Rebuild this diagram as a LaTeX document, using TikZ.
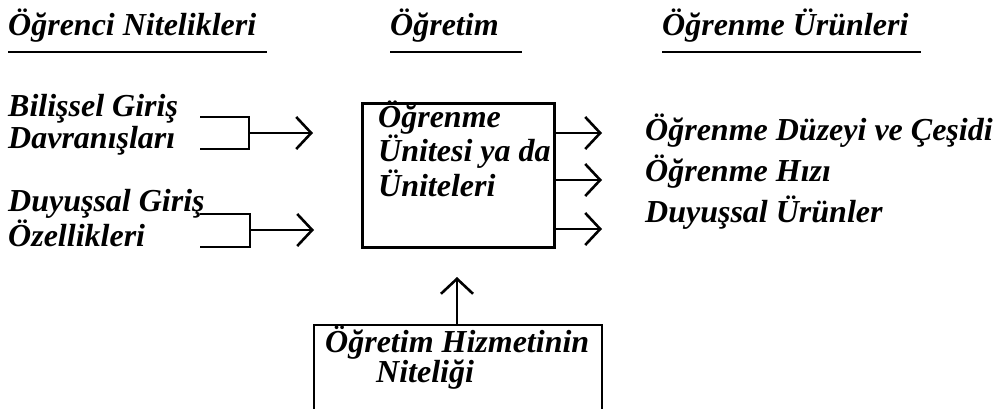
\documentclass[tikz,border=0pt]{standalone}
\usepackage{fontspec}
\setmainfont{Liberation Serif}
\usetikzlibrary{arrows.meta, positioning}

\tikzset{
  lbl/.style={font=\fontsize{32}{32}\selectfont\bfseries\itshape, inner sep=0pt, anchor=base west, align=left},
  thickline/.style={line width=2.6pt},
  flow/.style={line width=2.6pt, -{Straight Barb[length=15pt, width=32pt]}},
}

\begin{document}
\begin{tikzpicture}[x=1pt, y=-1pt]
  \useasboundingbox (0,0) rectangle (1002,408);
  \clip (0,0) rectangle (1002,408);

  % column headings with their underlines
  \node[lbl] (hNitelik) at (8,35) {Öğrenci Nitelikleri};
  \node[lbl] (hOgretim) at (390,35) {Öğretim};
  \node[lbl] (hUrun) at (662,35) {Öğrenme Ürünleri};
  \draw[thickline] (8,52) -- (267,52);
  \draw[thickline] (390,52) -- (522,52);
  \draw[thickline] (662,52) -- (921,52);

  % student characteristics (base = last line)
  \node[lbl] (bilissel) at (8,148) {Bilişsel Giriş\\Davranışları};
  \node[lbl] (duyussal) at (8,246) {Duyuşsal Giriş\\Özellikleri};

  % brackets and input arrows
  \coordinate (bilOut) at (249,133);
  \coordinate (bilEnd) at (313,133);
  \coordinate (duyOut) at (250,230);
  \coordinate (duyEnd) at (314,230);
  \draw[thickline] (200,117) -- (249,117) -- (249,149) -- (200,149);
  \draw[thickline] (200,214) -- (250,214) -- (250,247) -- (200,247);
  \draw[flow] (bilOut) -- (bilEnd);
  \draw[flow] (duyOut) -- (duyEnd);

  % learning unit
  \node[thickline, draw, anchor=north west, minimum width=192pt, minimum height=144pt] (unite) at (361,102) {};
  \node[lbl] (uniteText) at (378,196) {Öğrenme\\Ünitesi ya da\\Üniteleri};

  % outcomes
  \node[lbl] (duzey) at (645,140) {Öğrenme Düzeyi ve Çeşidi};
  \node[lbl] (hiz) at (645,181) {Öğrenme Hızı};
  \node[lbl] (urunler) at (645,222) {Duyuşsal Ürünler};
  \coordinate (duzeyEnd) at (602,133);
  \coordinate (hizEnd) at (602,180);
  \coordinate (urunEnd) at (602,229);
  \draw[flow] (unite.east |- duzeyEnd) -- (duzeyEnd);
  \draw[flow] (unite.east |- hizEnd) -- (hizEnd);
  \draw[flow] (unite.east |- urunEnd) -- (urunEnd);

  % quality of instruction, box runs off the bottom
  \draw[thickline] (314,420) -- (314,325) -- (602,325) -- (602,420);
  \node[lbl] (hizmet) at (325,352) {Öğretim Hizmetinin};
  \node[lbl] (nitelik) at (376,382) {Niteliği};
  \coordinate (hizmetTop) at (457,325);
  \coordinate (hizmetEnd) at (457,277);
  \draw[flow] (hizmetTop) -- (hizmetEnd);
\end{tikzpicture}
\end{document}
